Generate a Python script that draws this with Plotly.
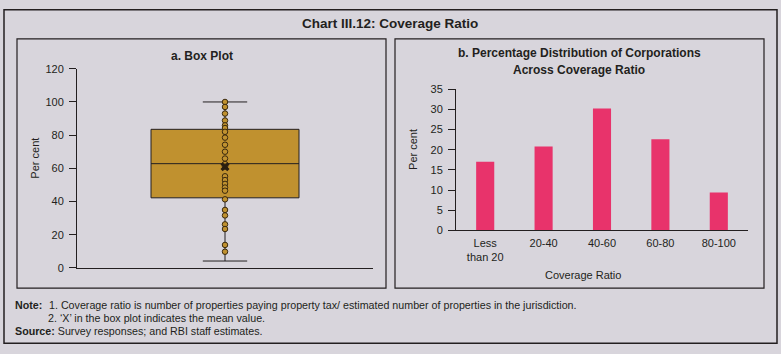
import plotly.graph_objects as go

# ---------------- data ----------------
box_q1 = 42.2
box_median = 62.8
box_q3 = 83.5
box_min = 4.1
box_max = 100.0
box_mean = 61.0
box_points = [100, 97, 93, 88.8, 85.9, 84.3, 82, 78.5, 74.2, 70, 65.9, 62.6, 61,
              55.2, 52.9, 50.6, 48.4, 46.5, 41.3, 34.9, 31.6, 26.2, 23.4, 13.8, 9.7]

bar_categories = ["Less<br>than 20", "20-40", "40-60", "60-80", "80-100"]
bar_values = [17.0, 20.8, 30.2, 22.6, 9.4]

W, H = 781, 354
BG = "#d8d5dc"
INK = "#231f20"
FONT = "Liberation Sans, Arial, sans-serif"


def px(x):
    return x / W


def py(y):
    return 1 - y / H


fig = go.Figure()

# Box plot (precomputed stats)
fig.add_trace(go.Box(
    x=[0], q1=[box_q1], median=[box_median], q3=[box_q3],
    lowerfence=[box_min], upperfence=[box_max],
    width=1.0, whiskerwidth=0.3, boxpoints=False,
    fillcolor="#c0912f", line=dict(color=INK, width=1),
    xaxis="x", yaxis="y", showlegend=False, hoverinfo="skip",
))
fig.add_trace(go.Scatter(
    x=[0] * len(box_points), y=box_points, mode="markers",
    marker=dict(symbol="circle", size=5.5, color="#c0912f",
                line=dict(color="#3b2a0e", width=1)),
    xaxis="x", yaxis="y", showlegend=False, hoverinfo="skip",
))
fig.add_trace(go.Scatter(
    x=[0], y=[box_mean], mode="markers",
    marker=dict(symbol="x", size=8, color="#2a1f10", line=dict(width=0)),
    xaxis="x", yaxis="y", showlegend=False, hoverinfo="skip",
))

# Bars
fig.add_trace(go.Bar(
    x=bar_categories, y=bar_values, marker=dict(color="#e8336b", line=dict(width=0)),
    xaxis="x2", yaxis="y2", showlegend=False, hoverinfo="skip",
))

axis_common = dict(showgrid=False, zeroline=False, showline=True,
                   linecolor=INK, linewidth=1,
                   tickfont=dict(family=FONT, size=11, color=INK))

fig.update_layout(
    width=W, height=H, margin=dict(l=0, r=0, t=0, b=0),
    paper_bgcolor=BG, plot_bgcolor=BG,
    font=dict(family=FONT, color=INK),
    bargap=0.69,
    xaxis=dict(domain=[px(77), px(373)], range=[-1, 1], showticklabels=False,
               ticks="", fixedrange=True, anchor="y", **axis_common),
    yaxis=dict(domain=[py(271), py(65)], range=[0, 120], dtick=20, ticks="outside",
               ticklen=7, tickcolor=INK, ticklabelstandoff=3, anchor="x", **axis_common),
    xaxis2=dict(domain=[px(456), px(748)], ticks="", anchor="y2",
                ticklabelstandoff=2, **axis_common),
    yaxis2=dict(domain=[py(232.3), py(86)], range=[0, 35], dtick=5, ticks="outside",
                ticklen=7, tickcolor=INK, ticklabelstandoff=3, anchor="x2", **axis_common),
)

# Borders
shapes = [
    dict(x0=4, y0=4, x1=777, y1=349, width=1.5),
    dict(x0=17, y0=34, x1=386, y1=292, width=1.2),
    dict(x0=395, y0=34, x1=764, y1=292, width=1.2),
]
for s in shapes:
    fig.add_shape(type="rect", xref="paper", yref="paper",
                  x0=px(s["x0"]), x1=px(s["x1"]), y0=py(s["y0"]), y1=py(s["y1"]),
                  line=dict(color=INK, width=s["width"]), fillcolor="rgba(0,0,0,0)",
                  layer="above")


def ann(text, x, y, size=10, xanchor="center", bold=False, angle=0):
    fig.add_annotation(
        text=f"<b>{text}</b>" if bold else text,
        x=px(x), y=py(y), xref="paper", yref="paper",
        xanchor=xanchor, yanchor="middle", showarrow=False,
        textangle=angle, font=dict(family=FONT, size=size, color=INK),
    )


ann("Chart III.12: Coverage Ratio", 390, 18, size=13.5, bold=True)
ann("a. Box Plot", 202, 52, size=12, bold=True)
ann("b. Percentage Distribution of Corporations", 579, 49, size=12, bold=True)
ann("Across Coverage Ratio", 579, 66, size=12, bold=True)
ann("Per cent", 35, 158, size=11, angle=-90)
ann("Per cent", 413, 149, size=11, angle=-90)
ann("Coverage Ratio", 583, 278, size=11)

NOTE = 10.7
ann("Note:", 12.5, 309, size=NOTE, xanchor="left", bold=True)
ann("1. Coverage ratio is number of properties paying property tax/ estimated number of properties in the jurisdiction.",
    46.5, 309, size=NOTE, xanchor="left")
ann("2. ‘X’ in the box plot indicates the mean value.", 45.5, 323, size=NOTE, xanchor="left")
ann("<b>Source:</b> Survey responses; and RBI staff estimates.", 12.5, 336, size=NOTE, xanchor="left")

fig.write_html("out.html")
